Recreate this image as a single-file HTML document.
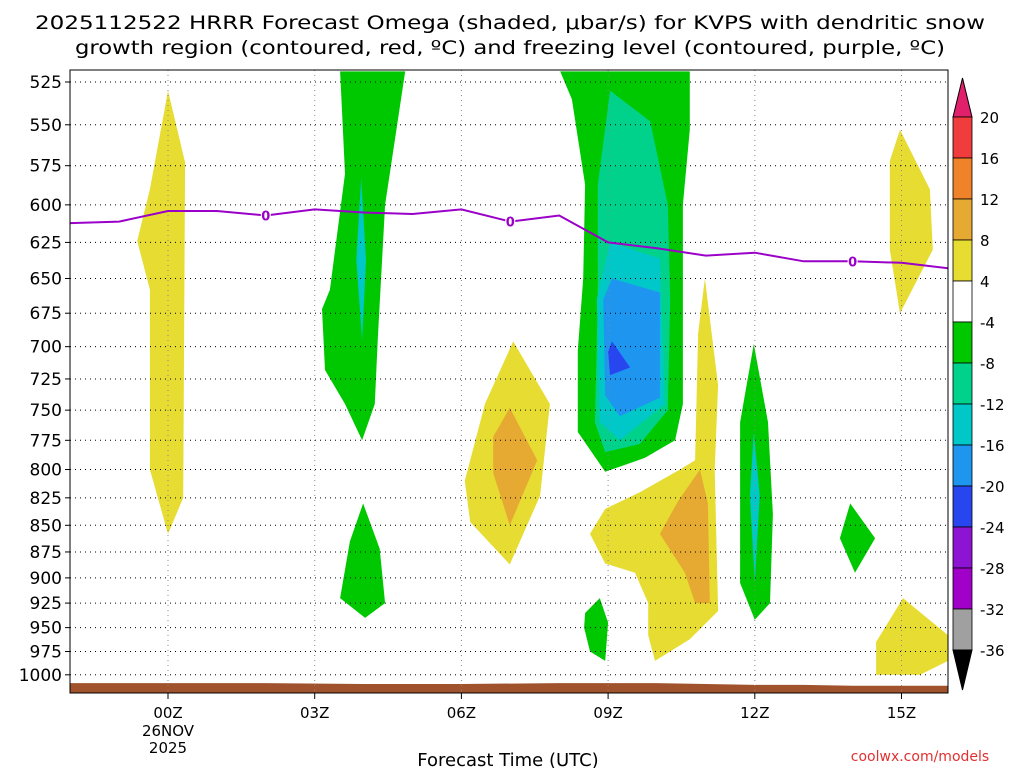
<!DOCTYPE html>
<html><head><meta charset="utf-8"><style>
html,body{margin:0;padding:0;background:#fff;width:1024px;height:768px;overflow:hidden}
text{font-family:"DejaVu Sans","Liberation Sans",sans-serif}
</style></head><body>
<svg id="chart" width="1024" height="768" xmlns="http://www.w3.org/2000/svg">
<text x="510" y="29" font-size="19" text-anchor="middle" textLength="950" lengthAdjust="spacingAndGlyphs">2025112522 HRRR Forecast Omega (shaded, μbar/s) for KVPS with dendritic snow</text>
<text x="510" y="54" font-size="19" text-anchor="middle" textLength="870" lengthAdjust="spacingAndGlyphs">growth region (contoured, red, ºC) and freezing level (contoured, purple, ºC)</text>
<g id="plot"></g>
<text x="508" y="766" font-size="18" text-anchor="middle">Forecast Time (UTC)</text>
<text x="920" y="761" font-size="14" fill="#e03030" text-anchor="middle">coolwx.com/models</text>
</svg>
<script>
const pressureTicks=[525,550,575,600,625,650,675,700,725,750,775,800,825,850,875,900,925,950,975,1000];
const hourTicks=[0,3,6,9,12,15];
const hourLabels=["00Z","03Z","06Z","09Z","12Z","15Z"];
const cbLevels=[20,16,12,8,4,-4,-8,-12,-16,-20,-24,-28,-32,-36];
const cbColors=["#e0206a","#f03c3c","#f0822a","#e6aa32","#e6dc32","#ffffff","#00c800","#00d28c","#00c8c8","#1e96f0","#2846f0","#8c14d2","#a000c8","#a0a0a0","#000000"];
const freezeHours=[-2,-1,0,1,2,3,4,5,6,7,8,9,10,11,12,13,14,15,16];
const freezeP=[612,611,604,604,607,603,605,606,603,611,607,625,629,634,632,638,638,639,643];
const freezeLabelHours=[2,7,14];
const groundP=[1009,1009,1009,1010,1010,1009,1009,1010,1011,1011,1012,1012];
const groundH=[-2,0,2,4,6,8,10,11,12,13,14,16];
const yellowLeft=[[0,530],[0.35,573],[0.31,825],[0,858],[-0.37,800],[-0.37,658],[-0.63,624],[-0.37,590]];
const greenA=[[3.52,519],[4.85,519],[4.44,600],[4.29,694],[4.23,745],[3.97,775],[3.62,745],[3.21,718],[3.15,672],[3.31,658],[3.62,580]];
const tealA=[[3.95,583],[4.05,637],[3.97,695],[3.85,637]];
const greenB=[[3.99,830],[4.33,872],[4.44,925],[4.03,940],[3.52,920],[3.72,865]];
const yellowMid=[[7.06,696],[7.81,745],[7.61,823],[6.99,887],[6.18,847],[6.07,810],[6.48,745]];
const orangeMid=[[6.99,748],[7.55,792],[6.99,850],[6.65,803],[6.65,772]];
const greenBig=[[8.02,519],[10.67,519],[10.67,553],[10.53,600],[10.53,745],[10.37,775],[9.75,790],[8.94,802],[8.38,768],[8.38,703],[8.49,650],[8.53,587],[8.26,535]];
const tealBig=[[9.04,530],[9.86,548],[10.22,600],[10.27,665],[10.22,750],[9.65,778],[8.94,785],[8.73,760],[8.79,665],[8.79,587]];
const cyanBig=[[9.04,625],[10.06,636],[10.16,745],[9.24,775],[8.83,760],[8.77,665]];
const lblueBig=[[9.08,650],[10.06,660],[10.06,740],[9.24,755],[8.94,738],[8.90,665]];
const blueBig=[[9.08,696],[9.45,716],[9.04,722],[9.0,704]];
const yellowRight=[[10.98,650],[11.25,730],[11.18,800],[11.25,933],[10.67,962],[9.96,985],[9.82,958],[9.82,925],[9.55,895],[8.94,886],[8.63,858],[8.94,835],[9.65,820],[10.47,800],[10.78,792],[10.84,690]];
const orangeRight=[[10.88,800],[11.04,830],[11.08,925],[10.78,925],[10.57,895],[10.06,858],[10.43,828]];
const green12=[[11.98,698],[12.27,760],[12.37,840],[12.31,925],[12.0,942],[11.7,905],[11.7,760]];
const teal12=[[11.98,768],[12.1,823],[12.0,905],[11.9,823]];
const green9low=[[8.83,920],[9.0,945],[8.94,985],[8.63,975],[8.51,950],[8.53,935]];
const green14=[[13.95,830],[14.46,862],[14.05,895],[13.74,862]];
const yellow15a=[[14.97,553],[15.58,590],[15.64,630],[14.97,675],[14.76,630],[14.76,572]];
const yellow15b=[[15.03,920],[15.95,958],[15.95,985],[15.38,1000],[14.48,1000],[14.48,965]];
const regions=[
 ["yellow-plume-00z","#e6dc32",yellowLeft],["green-plume-04z","#00c800",greenA],["teal-core-04z","#00c8c8",tealA],
 ["green-low-04z","#00c800",greenB],["yellow-plume-07z","#e6dc32",yellowMid],["orange-core-07z","#e6aa32",orangeMid],
 ["green-plume-09z","#00c800",greenBig],["teal-plume-09z","#00d28c",tealBig],["cyan-plume-09z","#00c8c8",cyanBig],
 ["lightblue-core-09z","#1e96f0",lblueBig],["blue-core-09z","#2846f0",blueBig],["yellow-plume-11z","#e6dc32",yellowRight],
 ["orange-core-11z","#e6aa32",orangeRight],["green-plume-12z","#00c800",green12],["teal-core-12z","#00c8c8",teal12],
 ["green-low-09z","#00c800",green9low],["green-cell-14z","#00c800",green14],["yellow-upper-15z","#e6dc32",yellow15a],["yellow-lower-15z","#e6dc32",yellow15b]];

const L=70,R=948,T=70,B=693;
const xS=h=>168+(h*48.9);
const yS=p=>82+920*(Math.log(p)-Math.log(525));
const NS="http://www.w3.org/2000/svg";
const g=document.getElementById('plot');
function mk(tag,attrs,parent){const e=document.createElementNS(NS,tag);for(const k in attrs)e.setAttribute(k,attrs[k]);(parent||g).appendChild(e);return e;}
const clip=mk('clipPath',{id:'pc'});mk('rect',{x:L,y:T,width:R-L,height:B-T},clip);
const shade=mk('g',{'clip-path':'url(#pc)'});
regions.forEach(r=>{
 const e=mk('polygon',{points:r[2].map(d=>xS(d[0]).toFixed(1)+','+yS(d[1]).toFixed(1)).join(' '),fill:r[1]},shade);
 
 
});
const ground=document.createElementNS(NS,'polygon');
let pts=groundH.map((h,i)=>xS(h).toFixed(1)+','+yS(groundP[i]).toFixed(1));
pts.push(xS(16)+','+B,xS(-2)+','+B);
ground.setAttribute('points',pts.join(' '));ground.setAttribute('fill','#a0522d');
ground.setAttribute('clip-path','url(#pc)');


g.appendChild(ground);
pressureTicks.forEach(p=>{
 const y=yS(p);
 const ln=mk('line',{x1:L,x2:R,y1:y,y2:y,stroke:'#000','stroke-width':1,'stroke-dasharray':'1,4'});
 
 
 mk('line',{x1:L-5,x2:L,y1:y,y2:y,stroke:'#000'});
 const t=mk('text',{x:L-8,y:y+6,'font-size':17,'text-anchor':'end'});t.textContent=p;
 
 
});
hourTicks.forEach((h,i)=>{
 const x=xS(h);
 const ln=mk('line',{x1:x,x2:x,y1:T,y2:B,stroke:'#888','stroke-width':1,'stroke-dasharray':'1,4'});
 
 
 mk('line',{x1:x,x2:x,y1:B,y2:B+6,stroke:'#000'});
 const t=mk('text',{x:x,y:718,'font-size':15,'text-anchor':'middle'});t.textContent=hourLabels[i];
 
 
});
let t1=mk('text',{x:xS(0),y:736,'font-size':15,'text-anchor':'middle'});t1.textContent='26NOV';


let t2=mk('text',{x:xS(0),y:753,'font-size':15,'text-anchor':'middle'});t2.textContent='2025';


const fl=mk('polyline',{points:freezeHours.map((h,i)=>xS(h).toFixed(1)+','+yS(freezeP[i]).toFixed(1)).join(' '),fill:'none',stroke:'#9a00c8','stroke-width':2,'clip-path':'url(#pc)'});


freezeLabelHours.forEach(h=>{
 const i=freezeHours.indexOf(h);const x=xS(h),y=yS(freezeP[i]);
 mk('rect',{x:x-5,y:y-7,width:10,height:14,fill:'#fff'});
 const lt=mk('text',{x:x,y:y+5,'font-size':13,'font-weight':'bold','text-anchor':'middle',fill:'#9a00c8'});lt.textContent='0';
 
 
});
mk('rect',{x:L,y:T,width:R-L,height:B-T,fill:'none',stroke:'#000','stroke-width':1});
const cbX=953,cbW=19,cbTop=117,step=41;
const cbY=i=>cbTop+i*step;
const cb=mk('g',{});


mk('polygon',{points:`${cbX},${cbTop} ${cbX+cbW/2},${cbTop-39} ${cbX+cbW},${cbTop}`,fill:cbColors[0],stroke:'#000'},cb);
for(let i=0;i<cbLevels.length-1;i++){
 mk('rect',{x:cbX,y:cbY(i),width:cbW,height:step,fill:cbColors[i+1],stroke:'#000','stroke-width':0.8},cb);
}
const last=cbY(cbLevels.length-1);
mk('polygon',{points:`${cbX},${last} ${cbX+cbW/2},${last+40} ${cbX+cbW},${last}`,fill:'#000',stroke:'#000'},cb);
cbLevels.forEach((v,i)=>{
 const lt=mk('text',{x:cbX+cbW+8,y:cbY(i)+6,'font-size':15},cb);lt.textContent=v;
 
 
});
</script>
</body></html>
